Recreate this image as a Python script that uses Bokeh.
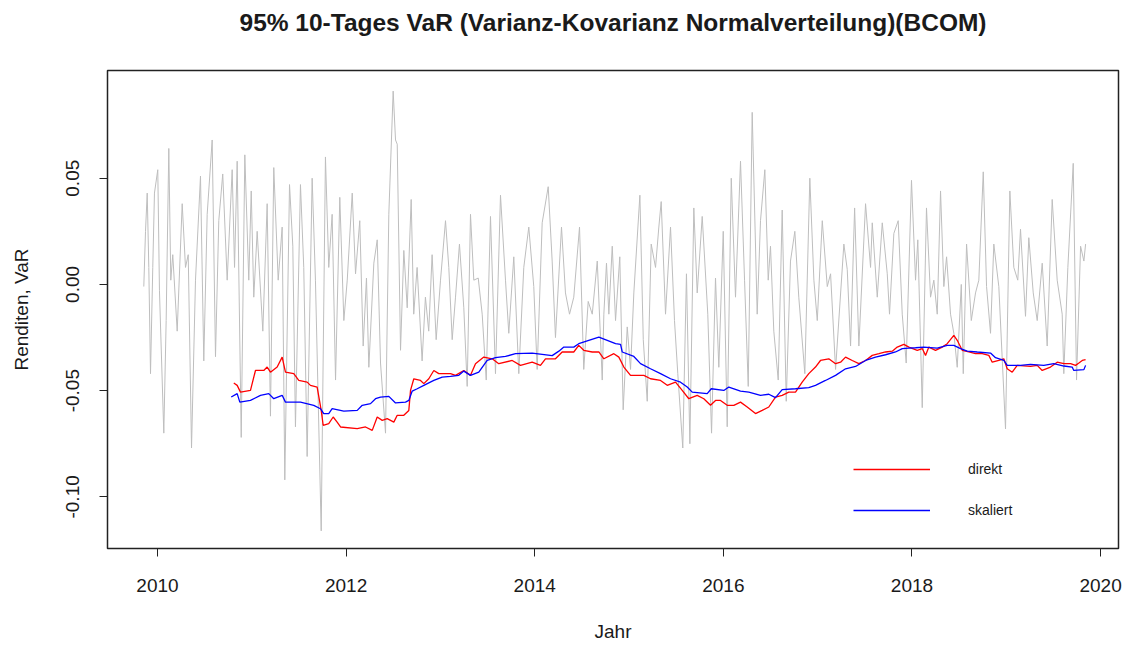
from bokeh.plotting import figure
from bokeh.models import Range1d, FixedTicker, PrintfTickFormatter, Legend, LegendItem, Title
from bokeh.embed import file_html
from bokeh.resources import INLINE

# ---------------- data ----------------
# grey: 10-day returns (turning points, decimal years)
ret_year = [
    2009.855, 2009.873, 2009.891, 2009.908, 2009.926, 2009.950, 2009.968, 2010.003, 2010.021, 2010.067,
    2010.092, 2010.120, 2010.141, 2010.162, 2010.209, 2010.262, 2010.297, 2010.326, 2010.361, 2010.403,
    2010.456, 2010.491, 2010.527, 2010.580, 2010.615, 2010.650, 2010.692, 2010.739, 2010.792, 2010.817,
    2010.845, 2010.888, 2010.926, 2010.968, 2010.994, 2011.021, 2011.057, 2011.117, 2011.163, 2011.198,
    2011.233, 2011.280, 2011.322, 2011.350, 2011.400, 2011.435,
    2011.463, 2011.516, 2011.551, 2011.587, 2011.640, 2011.675, 2011.736, 2011.781, 2011.816, 2011.852,
    2011.888, 2011.933, 2011.976, 2012.012, 2012.065, 2012.100, 2012.145, 2012.181, 2012.216, 2012.241,
    2012.294, 2012.330, 2012.365, 2012.418, 2012.453, 2012.499, 2012.524, 2012.542, 2012.577, 2012.612,
    2012.648, 2012.690, 2012.717, 2012.753, 2012.806, 2012.841, 2012.876, 2012.912, 2012.955, 2013.001,
    2013.054, 2013.089,
    2013.125, 2013.160, 2013.202, 2013.248, 2013.284, 2013.319, 2013.354, 2013.401, 2013.443, 2013.486,
    2013.531, 2013.584, 2013.637, 2013.690, 2013.725, 2013.778, 2013.831, 2013.884, 2013.937, 2013.990,
    2014.026, 2014.079, 2014.143, 2014.185, 2014.220, 2014.284, 2014.326, 2014.369, 2014.414, 2014.475,
    2014.520, 2014.567, 2014.610, 2014.663, 2014.716,
    2014.733, 2014.761, 2014.786, 2014.822, 2014.857, 2014.902, 2014.938, 2014.981, 2015.016, 2015.051,
    2015.115, 2015.151, 2015.193, 2015.235, 2015.281, 2015.316, 2015.341, 2015.387, 2015.440, 2015.482,
    2015.517, 2015.570, 2015.609, 2015.645, 2015.687, 2015.723, 2015.776, 2015.835, 2015.875, 2015.917,
    2015.952, 2015.999, 2016.041, 2016.084, 2016.129, 2016.182, 2016.225, 2016.264, 2016.306, 2016.359,
    2016.394, 2016.440, 2016.476, 2016.500, 2016.535, 2016.582, 2016.624, 2016.667, 2016.712, 2016.758,
    2016.800, 2016.864, 2016.917, 2016.960, 2016.996, 2017.049, 2017.102, 2017.137, 2017.190, 2017.278,
    2017.314, 2017.349, 2017.392, 2017.437, 2017.508, 2017.561, 2017.579, 2017.632, 2017.685, 2017.738,
    2017.762, 2017.808, 2017.854, 2017.897, 2017.939, 2017.995,
    2018.038, 2018.062, 2018.109, 2018.154, 2018.197, 2018.232, 2018.268, 2018.303, 2018.338, 2018.367,
    2018.409, 2018.444, 2018.480, 2018.523, 2018.544, 2018.579, 2018.629, 2018.674, 2018.709, 2018.756,
    2018.791, 2018.833, 2018.868, 2018.921, 2018.992, 2019.038, 2019.080, 2019.122, 2019.151, 2019.204,
    2019.239, 2019.286, 2019.328, 2019.381, 2019.434, 2019.487, 2019.540, 2019.593, 2019.610, 2019.653,
    2019.710, 2019.745, 2019.788, 2019.823, 2019.841,
]
ret_value = [
    -0.001, 0.025, 0.043, 0.008, -0.042, 0.008, 0.043, 0.054, -0.003, -0.070,
    -0.017, 0.064, 0.002, 0.014, -0.022, 0.038, 0.008, 0.014, -0.077, 0.002,
    0.051, -0.036, 0.033, 0.068, -0.034, 0.030, 0.052, 0.002, 0.054, 0.008,
    0.058, -0.072, 0.061, 0.002, 0.044, -0.006, 0.025, -0.022, 0.038, -0.062,
    0.055, 0.002, 0.027, -0.092, 0.047, 0.018,
    -0.067, 0.047, 0.008, -0.081, 0.050, 0.002, -0.116, 0.060, 0.008, 0.033,
    -0.045, 0.041, -0.017, 0.002, 0.043, 0.005, 0.030, -0.029, 0.003, -0.039,
    0.010, 0.021, -0.037, -0.070, 0.033, 0.091, 0.068, 0.066, -0.031, 0.016,
    -0.011, 0.040, -0.014, 0.008, -0.036, -0.006, -0.022, 0.014, -0.026, 0.002,
    0.030, 0.008,
    -0.026, -0.006, 0.019, -0.011, -0.048, 0.033, 0.002, 0.003, -0.014, -0.045,
    0.032, -0.042, 0.042, 0.002, -0.023, 0.013, -0.042, 0.008, 0.027, -0.001,
    -0.040, 0.029, 0.046, 0.011, -0.025, 0.027, -0.004, -0.014, -0.006, 0.027,
    -0.040, -0.008, -0.014, 0.011, -0.045,
    -0.014, 0.010, -0.014, 0.018, -0.017, 0.013, -0.059, -0.020, -0.040, -0.004,
    0.042, -0.026, -0.055, 0.019, 0.008, 0.027, 0.039, -0.014, 0.027, -0.017,
    -0.042, -0.077, 0.005, -0.075, 0.036, -0.004, 0.032, -0.014, -0.070, 0.003,
    -0.039, 0.025, -0.067, 0.050, -0.006, 0.058, 0.002, -0.048, 0.081, -0.014,
    0.030, 0.054, 0.002, 0.018, -0.022, -0.045, 0.035, -0.055, 0.011, 0.025,
    -0.006, -0.042, 0.050, 0.002, -0.017, 0.030, -0.001, 0.005, -0.040, 0.019,
    0.007, -0.029, 0.036, -0.029, 0.038, 0.008, 0.029, -0.006, 0.029, 0.005,
    -0.014, 0.024, 0.030, -0.014, -0.037, 0.049,
    0.002, 0.021, -0.058, 0.036, -0.006, 0.002, -0.014, 0.044, -0.001, 0.013,
    -0.014, -0.023, -0.039, 0.000, -0.042, 0.019, -0.017, -0.004, 0.002, 0.053,
    -0.001, -0.023, 0.019, -0.001, -0.068, 0.044, 0.008, 0.002, 0.026, -0.015,
    0.022, -0.004, -0.017, 0.010, -0.029, 0.040, 0.002, -0.014, -0.042, 0.008,
    0.057, -0.045, 0.018, 0.011, 0.019,
]

# red: VaR "direkt"
direkt_year = [
    2010.809, 2010.845, 2010.880, 2010.986, 2011.039, 2011.127, 2011.163, 2011.198, 2011.269, 2011.322,
    2011.357, 2011.445, 2011.498, 2011.587, 2011.622, 2011.693, 2011.736, 2011.757, 2011.816, 2011.863,
    2011.905, 2011.941, 2012.118, 2012.206, 2012.277, 2012.330, 2012.383, 2012.436, 2012.506, 2012.542,
    2012.612, 2012.665, 2012.683, 2012.718, 2012.789, 2012.824, 2012.877, 2012.930, 2012.983, 2013.107,
    2013.160, 2013.248, 2013.319, 2013.372, 2013.460, 2013.549, 2013.619, 2013.761, 2013.849, 2013.973,
    2014.061, 2014.114, 2014.220, 2014.291, 2014.414, 2014.467, 2014.520, 2014.610, 2014.680, 2014.733,
    2014.839, 2014.892, 2014.945, 2015.016, 2015.157, 2015.228, 2015.334, 2015.405, 2015.493, 2015.564,
    2015.634, 2015.723, 2015.793, 2015.864, 2015.917, 2015.970, 2016.041, 2016.111, 2016.182, 2016.253,
    2016.341, 2016.412, 2016.482, 2016.553, 2016.624, 2016.694, 2016.765, 2016.836, 2016.906, 2016.977,
    2017.030, 2017.118, 2017.190, 2017.243, 2017.296, 2017.367, 2017.437, 2017.508, 2017.579, 2017.650,
    2017.720, 2017.791, 2017.844, 2017.914, 2017.967, 2018.056, 2018.109, 2018.144, 2018.179, 2018.250,
    2018.321, 2018.374, 2018.444, 2018.480, 2018.533, 2018.603, 2018.674, 2018.745, 2018.815, 2018.851,
    2018.921, 2018.974, 2019.010, 2019.063, 2019.116, 2019.257, 2019.328, 2019.381, 2019.469, 2019.540,
    2019.611, 2019.682, 2019.735, 2019.770, 2019.806, 2019.841,
]
direkt_var = [
    -0.0464, -0.0475, -0.0507, -0.0499, -0.0405, -0.0405, -0.0389, -0.0413, -0.0389, -0.0342,
    -0.0413, -0.0420, -0.0452, -0.0460, -0.0475, -0.0483, -0.0593, -0.0663, -0.0655, -0.0624,
    -0.0648, -0.0671, -0.0679, -0.0671, -0.0687, -0.0624, -0.0640, -0.0632, -0.0648, -0.0616,
    -0.0616, -0.0593, -0.0499, -0.0444, -0.0452, -0.0467, -0.0444, -0.0405, -0.0420, -0.0420,
    -0.0428, -0.0405, -0.0428, -0.0373, -0.0342, -0.0350, -0.0373, -0.0358, -0.0381, -0.0366,
    -0.0381, -0.0350, -0.0350, -0.0318, -0.0318, -0.0287, -0.0310, -0.0318, -0.0318, -0.0350,
    -0.0326, -0.0342, -0.0389, -0.0428, -0.0428, -0.0444, -0.0452, -0.0475, -0.0460, -0.0499,
    -0.0538, -0.0522, -0.0538, -0.0569, -0.0546, -0.0546, -0.0569, -0.0569, -0.0554, -0.0577,
    -0.0608, -0.0593, -0.0577, -0.0530, -0.0522, -0.0507, -0.0507, -0.0460, -0.0420, -0.0389,
    -0.0358, -0.0350, -0.0373, -0.0366, -0.0342, -0.0358, -0.0373, -0.0358, -0.0334, -0.0326,
    -0.0318, -0.0314, -0.0295, -0.0282, -0.0295, -0.0310, -0.0302, -0.0334, -0.0295, -0.0310,
    -0.0295, -0.0279, -0.0240, -0.0263, -0.0310, -0.0318, -0.0326, -0.0326, -0.0334, -0.0366,
    -0.0358, -0.0350, -0.0397, -0.0413, -0.0381, -0.0386, -0.0381, -0.0405, -0.0389, -0.0366,
    -0.0373, -0.0373, -0.0381, -0.0370, -0.0358, -0.0354,
]

# blue: VaR "skaliert"
skaliert_year = [
    2010.782, 2010.845, 2010.873, 2010.986, 2011.092, 2011.180, 2011.233, 2011.322, 2011.357, 2011.516,
    2011.657, 2011.728, 2011.763, 2011.816, 2011.852, 2011.976, 2012.118, 2012.171, 2012.259, 2012.312,
    2012.365, 2012.453, 2012.524, 2012.630, 2012.665, 2012.701, 2012.754, 2012.824, 2012.930, 2013.019,
    2013.107, 2013.195, 2013.248, 2013.319, 2013.407, 2013.496, 2013.584, 2013.690, 2013.796, 2013.973,
    2014.079, 2014.185, 2014.256, 2014.309, 2014.414, 2014.467, 2014.573, 2014.680, 2014.769, 2014.857,
    2014.910, 2014.928, 2015.051, 2015.122, 2015.228, 2015.334, 2015.440, 2015.546, 2015.617, 2015.670,
    2015.829, 2015.872, 2016.005, 2016.058, 2016.182, 2016.270, 2016.394, 2016.482, 2016.553, 2016.624,
    2016.765, 2016.906, 2016.977, 2017.083, 2017.190, 2017.296, 2017.402, 2017.508, 2017.614, 2017.720,
    2017.826, 2017.897, 2017.967, 2018.038, 2018.126, 2018.268, 2018.374, 2018.444, 2018.515, 2018.586,
    2018.692, 2018.833, 2018.886, 2018.974, 2019.010, 2019.151, 2019.257, 2019.398, 2019.504, 2019.611,
    2019.699, 2019.716, 2019.823, 2019.841,
]
skaliert_var = [
    -0.0530, -0.0514, -0.0554, -0.0546, -0.0522, -0.0514, -0.0538, -0.0522, -0.0554, -0.0554,
    -0.0569, -0.0585, -0.0608, -0.0608, -0.0585, -0.0596, -0.0593, -0.0569, -0.0561, -0.0538,
    -0.0530, -0.0527, -0.0558, -0.0554, -0.0546, -0.0502, -0.0491, -0.0475, -0.0452, -0.0436,
    -0.0433, -0.0428, -0.0408, -0.0428, -0.0413, -0.0358, -0.0345, -0.0339, -0.0326, -0.0323,
    -0.0329, -0.0335, -0.0314, -0.0295, -0.0295, -0.0279, -0.0263, -0.0248, -0.0263, -0.0279,
    -0.0282, -0.0318, -0.0339, -0.0373, -0.0397, -0.0420, -0.0444, -0.0460, -0.0483, -0.0507,
    -0.0514, -0.0491, -0.0499, -0.0483, -0.0502, -0.0507, -0.0522, -0.0517, -0.0533, -0.0495,
    -0.0491, -0.0486, -0.0475, -0.0452, -0.0428, -0.0397, -0.0386, -0.0358, -0.0342, -0.0331,
    -0.0318, -0.0302, -0.0300, -0.0298, -0.0295, -0.0300, -0.0287, -0.0287, -0.0302, -0.0314,
    -0.0318, -0.0323, -0.0345, -0.0358, -0.0381, -0.0381, -0.0376, -0.0381, -0.0373, -0.0384,
    -0.0389, -0.0405, -0.0401, -0.0381,
]

x_ticks = [2010, 2012, 2014, 2016, 2018, 2020]
y_ticks = [-0.10, -0.05, 0.00, 0.05]
title_text = "95% 10-Tages VaR (Varianz-Kovarianz Normalverteilung)(BCOM)"
x_label = "Jahr"
y_label = "Renditen, VaR"
legend_labels = ["direkt", "skaliert"]

# ---------------- figure ----------------
FONT = "Liberation Sans"
TXT = "#1a1a1a"

p = figure(width=1132, height=645, output_backend="svg", toolbar_location=None,
           x_range=Range1d(2009.47, 2020.19), y_range=Range1d(-0.1243, 0.1007),
           min_border_left=107, min_border_right=14, min_border_top=70, min_border_bottom=97,
           background_fill_color="white", border_fill_color="white")

p.title.text = title_text
p.title.align = "center"
p.title.standoff = 0
p.title.text_font = FONT
p.title.text_font_style = "bold"
p.title.text_font_size = "24.5px"
p.title.text_color = TXT

# empty spacer panel between the frame and the title
spacer = Title(text=" ", text_font_size="1px", standoff=32)
p.add_layout(spacer, "above")

p.grid.visible = False
p.outline_line_color = "#222222"
p.outline_line_width = 1.5
p.outline_line_alpha = 1.0

for ax in (p.xaxis[0], p.yaxis[0]):
    ax.axis_line_color = None
    ax.major_tick_out = 8
    ax.major_tick_in = 0
    ax.minor_tick_line_color = None
    ax.major_tick_line_color = "#222222"
    ax.major_label_text_font = FONT
    ax.major_label_text_font_size = "19px"
    ax.major_label_text_color = TXT
    ax.axis_label_text_font = FONT
    ax.axis_label_text_font_size = "19px"
    ax.axis_label_text_font_style = "normal"
    ax.axis_label_text_color = TXT

p.xaxis.ticker = FixedTicker(ticks=x_ticks)
p.xaxis.formatter = PrintfTickFormatter(format="%d")
p.xaxis.axis_label = x_label
p.xaxis.major_label_standoff = 22
p.xaxis.axis_label_standoff = 26

p.yaxis.ticker = FixedTicker(ticks=y_ticks)
p.yaxis.formatter = PrintfTickFormatter(format="%.2f")
p.yaxis.major_label_orientation = "vertical"
p.yaxis.axis_label = y_label
p.yaxis.major_label_standoff = 20
p.yaxis.axis_label_standoff = 32

p.line(ret_year, ret_value, line_color="#BEBEBE", line_width=1.0)
r_direkt = p.line(direkt_year, direkt_var, line_color="#FF0000", line_width=1.3)
r_skal = p.line(skaliert_year, skaliert_var, line_color="#0000FF", line_width=1.3)

legend = Legend(items=[LegendItem(label=legend_labels[0], renderers=[r_direkt]),
                       LegendItem(label=legend_labels[1], renderers=[r_skal])],
                location=(746, 28), border_line_color=None, background_fill_alpha=0,
                glyph_width=77, glyph_height=20, label_height=20, label_standoff=38,
                spacing=21, padding=0, margin=0,
                label_text_font=FONT, label_text_font_size="14px", label_text_color=TXT)
p.add_layout(legend)

open("out.html", "w").write(file_html(p, INLINE))
